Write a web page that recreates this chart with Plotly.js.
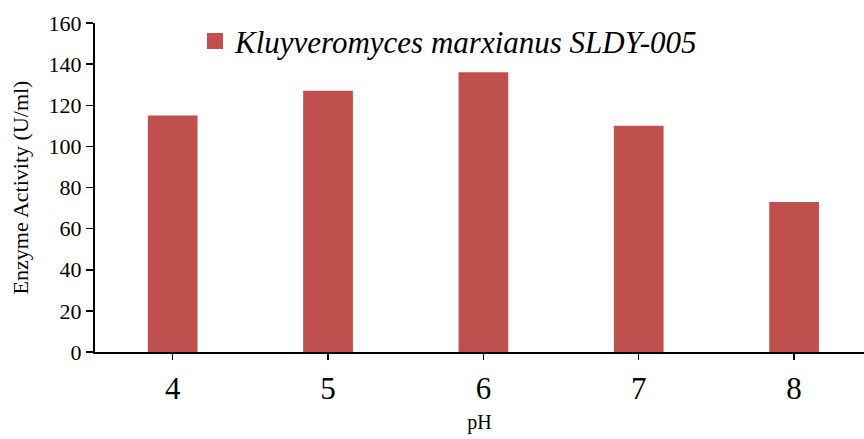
<!DOCTYPE html>
<html>
<head>
<meta charset="utf-8">
<script src="https://cdn.plot.ly/plotly-3.0.1.min.js"></script>
<style>
html,body{margin:0;padding:0;background:#fff;}
#chart{width:864px;height:439px;}
#chart text{font-family:"Liberation Serif","Times New Roman",serif !important;}
#chart .legendtext{font-style:italic !important;}
</style>
</head>
<body>
<div id="chart"></div>
<script>
const categories = ["4", "5", "6", "7", "8"];
const activity = [115, 127, 136, 110, 73];
const seriesName = "Kluyveromyces marxianus SLDY-005";
const yTicks = [0, 20, 40, 60, 80, 100, 120, 140, 160];

const serif = "Liberation Serif";

const trace = {
  type: "bar",
  x: categories,
  y: activity,
  name: seriesName,
  width: 0.32,
  marker: {color: "#C0504D"},
  showlegend: true
};

const layout = {
  width: 864, height: 439,
  margin: {l: 95, r: 0, t: 23, b: 87},
  paper_bgcolor: "#fff", plot_bgcolor: "#fff",
  font: {family: serif, color: "#000"},
  showlegend: true,
  legend: {
    x: 0.13, xanchor: "left", y: 1.026, yanchor: "top",
    font: {family: serif, size: 31, color: "#000", style: "italic"},
    bgcolor: "rgba(0,0,0,0)"
  },
  xaxis: {
    type: "category",
    range: [-0.5, 4.45],
    showline: true, linecolor: "#000", linewidth: 2,
    ticks: "outside", ticklen: 6, tickwidth: 1.5, tickcolor: "#000",
    tickfont: {family: serif, size: 31},
    ticklabelstandoff: 2,
    showgrid: false, zeroline: false,
    title: {text: "pH", font: {family: serif, size: 20}, standoff: 10}
  },
  yaxis: {
    range: [0, 160],
    tickvals: yTicks,
    showline: true, linecolor: "#000", linewidth: 2,
    ticks: "outside", ticklen: 7, tickwidth: 1.5, tickcolor: "#000",
    tickfont: {family: serif, size: 22},
    showgrid: false, zeroline: false,
    title: {text: "Enzyme Activity (U/ml)", font: {family: serif, size: 22}, standoff: 14}
  }
};

Plotly.newPlot("chart", [trace], layout, {displayModeBar: false, staticPlot: true}).then(() => {
  document.querySelectorAll(".legendpoints path").forEach(p => p.setAttribute("d", "M8,8H-8V-8H8Z"));
});
</script>
</body>
</html>
